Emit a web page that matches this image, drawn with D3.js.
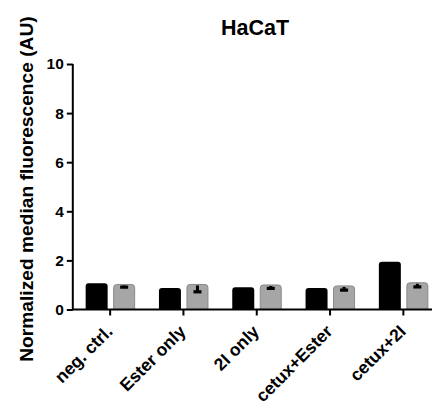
<!DOCTYPE html>
<html>
<head>
<meta charset="utf-8">
<script src="https://cdn.jsdelivr.net/npm/d3@7.9.0/dist/d3.min.js"></script>
<style>
  body { margin: 0; background: #fff; }
  svg { display: block; font-family: "Liberation Sans", Arial, sans-serif; font-weight: bold; }
</style>
</head>
<body>
<svg width="432" height="406"></svg>
<script>
// data
const groups = ['neg. ctrl.', 'Ester only', '2I only', 'cetux+Ester', 'cetux+2I'];
const blackVals = [1.07, 0.88, 0.91, 0.88, 1.95];
const greyVals = [1.04, 1.04, 1.02, 0.98, 1.11];
const greyErrLow = [0.91, 0.72, 0.86, 0.79, 0.92];
const yTicks = [0, 2, 4, 6, 8, 10];

const svg = d3.select('svg');

const y = d3.scaleLinear().domain([0, 10]).range([309.5, 64]);
const x = d3.scaleBand().domain(groups).range([73.5, 440]).padding(0);
const sub = d3.scaleBand().domain(['black', 'grey']).range([-24.5, 25]).paddingInner(0.2);

// bar with rounded top corners
function topRounded(x0, w, yTop, yBot, r) {
  r = Math.min(r, w / 2, (yBot - yTop));
  return `M${x0},${yBot}V${yTop + r}Q${x0},${yTop} ${x0 + r},${yTop}H${x0 + w - r}Q${x0 + w},${yTop} ${x0 + w},${yTop + r}V${yBot}Z`;
}

const rows = groups.map((g, i) => ({ g, b: blackVals[i], v: greyVals[i], lo: greyErrLow[i] }));

const gg = svg.append('g').selectAll('g').data(rows).join('g')
  .attr('transform', d => `translate(${x(d.g) + x.bandwidth() / 2},0)`);

gg.append('path')
  .attr('d', d => topRounded(sub('black'), sub.bandwidth(), y(d.b), y(0), 3))
  .attr('fill', '#000');

gg.append('path')
  .attr('d', d => topRounded(sub('grey') + 0.5, sub.bandwidth() - 1, y(d.v) + 0.5, y(0), 3))
  .attr('fill', '#a6a6a6')
  .attr('stroke', '#8a8a8a')
  .attr('stroke-width', 1);

// error bars (lower part, drawn inside the grey bars)
const cx = sub('grey') + sub.bandwidth() / 2;
gg.append('rect')
  .attr('x', cx - 1.5)
  .attr('width', 3)
  .attr('y', d => y(d.v) + 1.5)
  .attr('height', d => Math.max(0, y(d.lo) - y(d.v) - 1.5))
  .attr('fill', '#000');
gg.append('rect')
  .attr('x', cx - 4)
  .attr('width', 8)
  .attr('y', d => y(d.lo) - 1.6)
  .attr('height', 3.2)
  .attr('fill', '#000');

// axes
const yAxis = svg.append('g')
  .attr('transform', 'translate(72.8,0)')
  .call(d3.axisLeft(y).tickValues(yTicks).tickSize(6).tickPadding(3).tickFormat(d3.format('d')));
yAxis.select('.domain').attr('d', `M0,${y(10)}V${y(0)}`).attr('stroke-width', 2);
yAxis.selectAll('.tick line').attr('stroke-width', 2);
yAxis.selectAll('.tick text').attr('font-size', 15.5).attr('font-family', null).attr('fill', '#000');

const xAxis = svg.append('g')
  .attr('transform', `translate(0,${y(0)})`)
  .call(d3.axisBottom(x).tickSize(6).tickSizeOuter(0));
xAxis.select('.domain').attr('d', 'M72,0H432').attr('stroke-width', 2);
xAxis.selectAll('.tick line').attr('stroke-width', 2);
xAxis.selectAll('.tick text')
  .attr('font-size', 17.5).attr('font-family', null).attr('fill', '#000')
  .attr('text-anchor', 'end')
  .attr('x', 0).attr('y', 0).attr('dy', null)
  .attr('transform', 'translate(3.5,23) rotate(-45)');

// titles
svg.append('text')
  .attr('x', 255).attr('y', 35)
  .attr('text-anchor', 'middle')
  .attr('font-size', 21.5)
  .text('HaCaT');

svg.append('text')
  .attr('transform', 'translate(33,189) rotate(-90)')
  .attr('text-anchor', 'middle')
  .attr('font-size', 19.2)
  .text('Normalized median fluorescence (AU)');
</script>
</body>
</html>
